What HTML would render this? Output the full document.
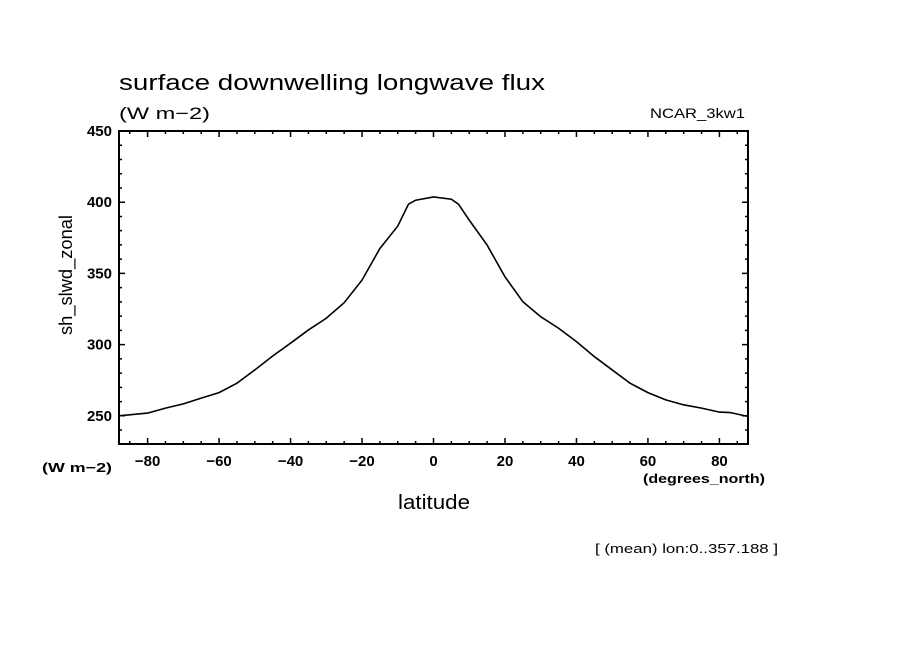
<!DOCTYPE html>
<html><head><meta charset="utf-8"><style>
body{margin:0;background:#fff}
svg text{font-family:"Liberation Sans",sans-serif;fill:#000}
</style></head><body>
<svg width="904" height="654" viewBox="0 0 904 654">
<text x="119" y="90" font-size="22" textLength="426" lengthAdjust="spacingAndGlyphs">surface downwelling longwave flux</text>
<text x="119" y="119" font-size="17" textLength="91" lengthAdjust="spacingAndGlyphs">(W m−2)</text>
<text x="650" y="118" font-size="14" textLength="95" lengthAdjust="spacingAndGlyphs">NCAR_3kw1</text>
<text transform="translate(72,335) rotate(-90)" font-size="18" textLength="120" lengthAdjust="spacingAndGlyphs">sh_slwd_zonal</text>
<text x="42" y="472" font-size="13" font-weight="bold" textLength="70" lengthAdjust="spacingAndGlyphs">(W m−2)</text>
<text x="643" y="483" font-size="13" font-weight="bold" textLength="122" lengthAdjust="spacingAndGlyphs">(degrees_north)</text>
<text x="398" y="509" font-size="20" textLength="72" lengthAdjust="spacingAndGlyphs">latitude</text>
<text x="595" y="553" font-size="13" textLength="183" lengthAdjust="spacingAndGlyphs">[ (mean) lon:0..357.188 ]</text>
<g id="axes"></g>
<g id="plot"></g>
</svg>
<script>
const lats=[-88,-80,-75,-70,-65,-60,-55,-50,-45,-40,-35,-30,-25,-20,-15,-10,-7,-5,0,5,7,10,15,20,25,30,35,40,45,50,55,60,65,70,75,80,83,88];
const flux=[250,251.9,255.4,258.4,262.4,266.3,272.9,282.2,292,301,310.3,318.5,329.4,345.3,367.5,383.2,398.6,401.4,403.7,402.1,398.6,387.4,369.9,347.6,330.1,319.6,311.5,302.1,291.6,282.2,272.9,266.3,261.2,257.7,255.4,252.6,252.3,249.5];
const xTicks=[-80,-60,-40,-20,0,20,40,60,80];
const yTicks=[250,300,350,400,450];
const X0=119,X1=748,Y0=131,Y1=444,xmin=-88,xmax=88,ymin=230.2,ymax=450;
const sx=v=>X0+(v-xmin)/(xmax-xmin)*(X1-X0);
const sy=v=>Y1-(v-ymin)/(ymax-ymin)*(Y1-Y0);
const NS="http://www.w3.org/2000/svg";
const ax=document.getElementById('axes'),pl=document.getElementById('plot');
function mk(tag,at,par){const e=document.createElementNS(NS,tag);for(const k in at)e.setAttribute(k,at[k]);par.appendChild(e);return e;}
const fr=mk('rect',{x:X0,y:Y0,width:X1-X0,height:Y1-Y0,fill:'none',stroke:'#000','stroke-width':2},ax);


let d='';
for(let v=-85;v<=85;v+=5){const x=sx(v),L=(v%20===0)?6:3;d+=`M${x},${Y1}v${-L}M${x},${Y0}v${L}`;}
for(let v=240;v<=440;v+=10){const y=sy(v),L=(v%50===0)?6:3;d+=`M${X0},${y}h${L}M${X1},${y}h${-L}`;}
const tk=mk('path',{d:d,stroke:'#000','stroke-width':1.5,fill:'none'},ax);


xTicks.forEach(v=>{const s=String(v).replace('-','−');const t=mk('text',{x:sx(v),y:Y1+22,'font-size':15,'font-weight':'bold','text-anchor':'middle'},ax);t.textContent=s;

});
yTicks.forEach(v=>{const t=mk('text',{x:X0-7,y:sy(v)+5,'font-size':15,'font-weight':'bold','text-anchor':'end'},ax);t.textContent=v;

});
const ln=mk('polyline',{points:lats.map((v,i)=>sx(v)+','+sy(flux[i])).join(' '),fill:'none',stroke:'#000','stroke-width':1.6},pl);


</script>
</body></html>
